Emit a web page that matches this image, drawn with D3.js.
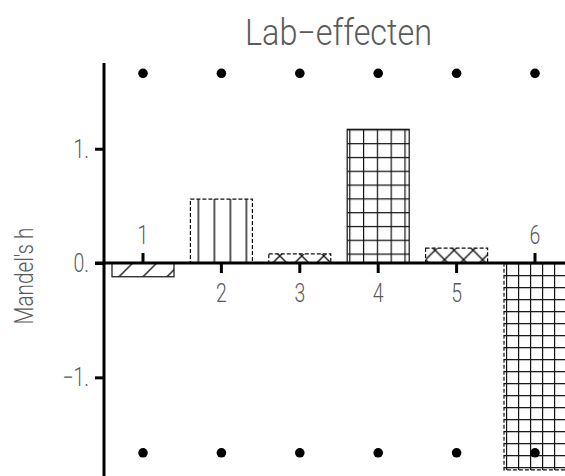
<!DOCTYPE html>
<html>
<head>
<meta charset="utf-8">
<script src="https://cdn.jsdelivr.net/npm/d3@7"></script>
<style>
  body { margin: 0; background: #fff; }
  svg { display: block; }
  text { font-family: Roboto, "DejaVu Sans", sans-serif; font-weight: 300; fill: #5a5a5a; }
</style>
</head>
<body>
<svg id="chart" width="565" height="476"></svg>
<script>
// data
const labs = [1, 2, 3, 4, 5, 6];
const mandelH = [-0.12, 0.56, 0.08, 1.17, 0.13, -1.81];
const critUpper = 1.66;
const critLower = -1.66;
const yTicks = [-1, 0, 1];
const yTickLabels = ["\u22121.", "0.", "1."];
const title = "Lab\u2212effecten";
const yTitle = "Mandel's h";

const vis = {

    svg : d3.select('#chart'),

    x : d3.scaleLinear().domain([1, 6]).range([143, 535]),
    y : d3.scaleLinear().domain([-1.863, 1.75]).range([476, 63]),

    barWidth : 62,
    squeeze : 0.78,

    // one fill per lab, same order as labs
    fills : [
        { id : 'p1', kind : 'slash', size : 24, dashed : false },
        { id : 'p2', kind : 'vert', size : 16, dashed : true },
        { id : 'p3', kind : 'cross', size : 22, dashed : true },
        { id : 'p4', kind : 'grid', size : 13.8, dashed : false },
        { id : 'p5', kind : 'cross', size : 19, dashed : true },
        { id : 'p6', kind : 'grid', size : 12, dashed : true }
    ],

    label : function(g, x, y, txt, size, anchor) {
        g.append('text')
          .attr('transform', `translate(${x},${y}) scale(${this.squeeze},1)`)
          .attr('text-anchor', anchor)
          .attr('font-size', size)
          .text(txt);
    },

    patterns : function() {

        const defs = this.svg.append('defs');

        this.fills.forEach((f, i) => {
            const v = mandelH[i];
            const left = this.x(labs[i]) - this.barWidth / 2;
            const top = this.y(Math.max(v, 0));
            const s = f.size;

            const p = defs.append('pattern')
              .attr('id', f.id)
              .attr('patternUnits', 'userSpaceOnUse')
              .attr('width', s)
              .attr('height', s);

            const ln = p.append('path')
              .attr('fill', 'none')
              .attr('stroke', '#111')
              .attr('stroke-width', 1.4);

            if (f.kind === 'slash') {
                p.attr('x', left - 3.3).attr('y', top);
                ln.attr('d', `M0,${s} L${s},0 M${-s/2},${s/2} L${s/2},${-s/2} M${s/2},${s*1.5} L${s*1.5},${s/2}`);
            } else if (f.kind === 'vert') {
                p.attr('x', left).attr('y', top);
                ln.attr('d', `M${s/2},0 V${s}`);
            } else if (f.kind === 'cross') {
                p.attr('x', left).attr('y', top - s / 2 + 2);
                ln.attr('d', `M0,0 L${s},${s} M0,${s} L${s},0`);
            } else {
                p.attr('x', left + 2).attr('y', top);
                ln.attr('d', `M0.5,0 V${s} M0,0.5 H${s}`);
            }
        });
    },

    axes : function() {

        const svg = this.svg;
        const x = this.x, y = this.y;

        // y axis ticks and labels
        const ya = svg.append('g')
          .attr('transform', 'translate(104,0)')
          .call(d3.axisLeft(y).tickValues(yTicks).tickSize(9).tickFormat(''));

        ya.select('.domain').remove();
        ya.selectAll('.tick line').attr('stroke', '#000').attr('stroke-width', 3);

        yTicks.forEach((t, i) => this.label(svg, 89, y(t) + 9, yTickLabels[i], 25, 'end'));

        // y axis line
        svg.append('line')
          .attr('x1', 104).attr('x2', 104)
          .attr('y1', y(1.75)).attr('y2', 476)
          .attr('stroke', '#000').attr('stroke-width', 3);
    },

    bars : function() {

        const svg = this.svg;
        const x = this.x, y = this.y, w = this.barWidth;

        svg.append('g').selectAll('rect')
          .data(mandelH)
          .join('rect')
          .attr('x', (d, i) => x(labs[i]) - w / 2)
          .attr('y', d => y(Math.max(d, 0)))
          .attr('width', w)
          .attr('height', d => Math.abs(y(d) - y(0)))
          .attr('fill', (d, i) => `url(#${this.fills[i].id})`)
          .attr('stroke', '#111')
          .attr('stroke-width', 1.2)
          .attr('stroke-dasharray', (d, i) => this.fills[i].dashed ? '4,2' : null);

        // zero line over bar edges
        svg.append('line')
          .attr('x1', 95).attr('x2', 565)
          .attr('y1', y(0)).attr('y2', y(0))
          .attr('stroke', '#000').attr('stroke-width', 3);

        // lab ticks: pointing away from the bar
        svg.append('g').selectAll('line')
          .data(mandelH)
          .join('line')
          .attr('x1', (d, i) => x(labs[i]))
          .attr('x2', (d, i) => x(labs[i]))
          .attr('y1', y(0))
          .attr('y2', d => d < 0 ? y(0) - 10 : y(0) + 10)
          .attr('stroke', '#000')
          .attr('stroke-width', 3);

        mandelH.forEach((d, i) => {
            const ty = d < 0 ? y(0) - 19 : y(0) + 39;
            this.label(svg, x(labs[i]), ty, String(labs[i]), 25, 'middle');
        });
    },

    dots : function() {

        const svg = this.svg;
        const x = this.x, y = this.y;

        [critUpper, critLower].forEach(c => {
            svg.append('g').selectAll('circle')
              .data(labs)
              .join('circle')
              .attr('cx', d => x(d))
              .attr('cy', y(c))
              .attr('r', 4.8)
              .attr('fill', '#000');
        });
    },

    titles : function() {

        this.svg.append('text')
          .attr('x', 338.5)
          .attr('y', 45)
          .attr('text-anchor', 'middle')
          .attr('font-size', 36)
          .attr('textLength', 187)
          .attr('lengthAdjust', 'spacingAndGlyphs')
          .text(title);

        this.svg.append('text')
          .attr('transform', 'translate(33,276) rotate(-90)')
          .attr('text-anchor', 'middle')
          .attr('font-size', 25)
          .attr('textLength', 97)
          .attr('lengthAdjust', 'spacingAndGlyphs')
          .text(yTitle);
    },

    init : function() {
        this.patterns();
        this.axes();
        this.bars();
        this.dots();
        this.titles();
    }
};

vis.init();
</script>
</body>
</html>
